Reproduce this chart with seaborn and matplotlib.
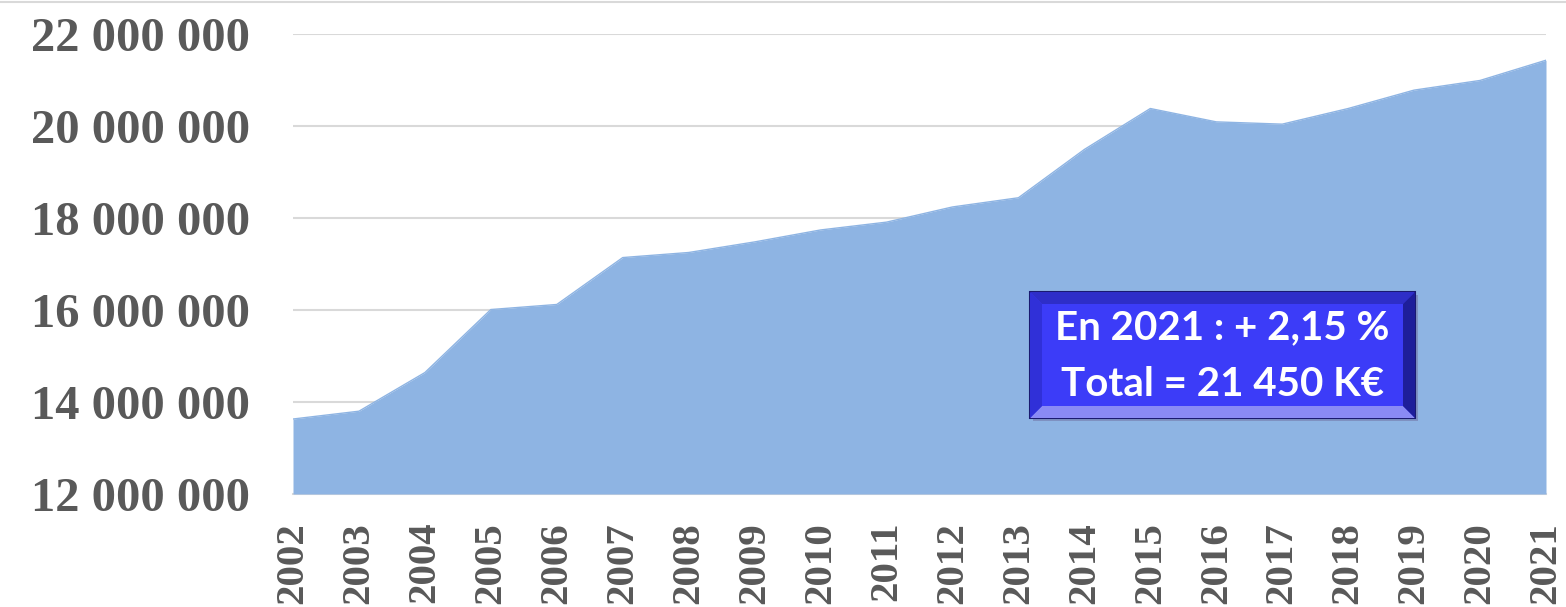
import matplotlib
matplotlib.use("Agg")
import matplotlib.pyplot as plt
import seaborn as sns
import pandas as pd
from matplotlib.patches import Polygon, Rectangle

years = list(range(2002, 2022))
values = [13630000, 13800000, 14640000, 16010000, 16120000, 17140000, 17250000,
          17480000, 17740000, 17910000, 18240000, 18440000, 19490000, 20380000,
          20090000, 20040000, 20380000, 20780000, 20990000, 21430000]
ytick_values = [12000000, 14000000, 16000000, 18000000, 20000000, 22000000]
ytick_labels = ["12 000 000", "14 000 000", "16 000 000", "18 000 000", "20 000 000", "22 000 000"]
box_lines = ["En 2021 : + 2,15 %", "Total = 21 450 K€"]

sns.set_theme(style="white")
plt.rcParams['font.family'] = ['Liberation Serif', 'DejaVu Serif']

W, H = 1566, 607
fig = plt.figure(figsize=(W / 100, H / 100), dpi=100)
ax = fig.add_axes([293 / W, 1 - 494 / H, (1546 - 293) / W, (494 - 34) / H])

df = pd.DataFrame({"year": years, "value": values})
area_color = "#8EB4E3"
ax.fill_between(df["year"], df["value"], 12000000, color=area_color, linewidth=0, zorder=2)
sns.lineplot(data=df, x="year", y="value", ax=ax, color=area_color, linewidth=1, zorder=3)

ax.set_xlim(2002, 2021)
ax.set_ylim(12000000, 22000000)
ax.set_yticks(ytick_values)
ax.set_yticklabels(ytick_labels)
ax.set_xticks(years)
ax.set_xticklabels([str(y) for y in years], rotation=90)
ax.set_xlabel("")
ax.set_ylabel("")
for lab in ax.get_yticklabels():
    lab.set_fontsize(35)
    lab.set_fontweight("bold")
    lab.set_color("#595959")
for lab in ax.get_xticklabels():
    lab.set_fontsize(29.5)
    lab.set_fontweight("bold")
    lab.set_color("#595959")
ax.tick_params(axis="y", length=0, pad=31)
ax.tick_params(axis="x", length=0, pad=20)
ax.grid(axis="y", color="#D9D9D9", linewidth=1.5, zorder=0)
ax.set_axisbelow(True)
for s in ["top", "left", "right"]:
    ax.spines[s].set_visible(False)
ax.spines["bottom"].set_color("#D9D9D9")
ax.spines["bottom"].set_linewidth(1.5)
ax.spines["bottom"].set_zorder(1)

# outer chart frame (top edge visible)
fig.add_artist(plt.Line2D([0, 1], [1 - 2 / H, 1 - 2 / H], transform=fig.transFigure,
                          color="#D9D9D9", linewidth=1.5))

# bevelled blue box
def fx(x):
    return x / W

def fy(y):
    return 1 - y / H

x0, x1, y0, y1 = 1030, 1415, 292, 418
b = 12
tf = fig.transFigure
# shadow
fig.add_artist(Rectangle((fx(x0 + 3), fy(y1 + 3)), fx(x1 - x0), (y1 - y0) / H,
                         transform=tf, facecolor="#7070a0", edgecolor="none", alpha=0.5))
fig.add_artist(Rectangle((fx(x0), fy(y1)), fx(x1 - x0), (y1 - y0) / H,
                         transform=tf, facecolor="#3A3AF2", edgecolor="#1A1A70", linewidth=1.5))
top = [(x0, y0), (x1, y0), (x1 - b, y0 + b), (x0 + b, y0 + b)]
bottom = [(x0, y1), (x1, y1), (x1 - b, y1 - b), (x0 + b, y1 - b)]
left = [(x0, y0), (x0 + b, y0 + b), (x0 + b, y1 - b), (x0, y1)]
right = [(x1, y0), (x1 - b, y0 + b), (x1 - b, y1 - b), (x1, y1)]
for poly, col in [(top, "#2E2EC8"), (bottom, "#8A8AF5"), (left, "#3030D8"), (right, "#1E1E9A")]:
    fig.add_artist(Polygon([(fx(px), fy(py)) for px, py in poly], closed=True, transform=tf,
                           facecolor=col, edgecolor="none"))
fig.add_artist(Rectangle((fx(x0 + b), fy(y1 - b)), fx(x1 - x0 - 2 * b), (y1 - y0 - 2 * b) / H,
                         transform=tf, facecolor="#3C3CF8", edgecolor="none"))
fig.text(fx((x0 + x1) / 2), fy(328), box_lines[0], color="white", fontsize=29, fontweight="bold",
         family=["Lato", "DejaVu Sans"], ha="center", va="center")
fig.text(fx((x0 + x1) / 2), fy(385), box_lines[1], color="white", fontsize=29, fontweight="bold",
         family=["Lato", "DejaVu Sans"], ha="center", va="center")

fig.savefig("out.png", dpi=100, facecolor="white")
